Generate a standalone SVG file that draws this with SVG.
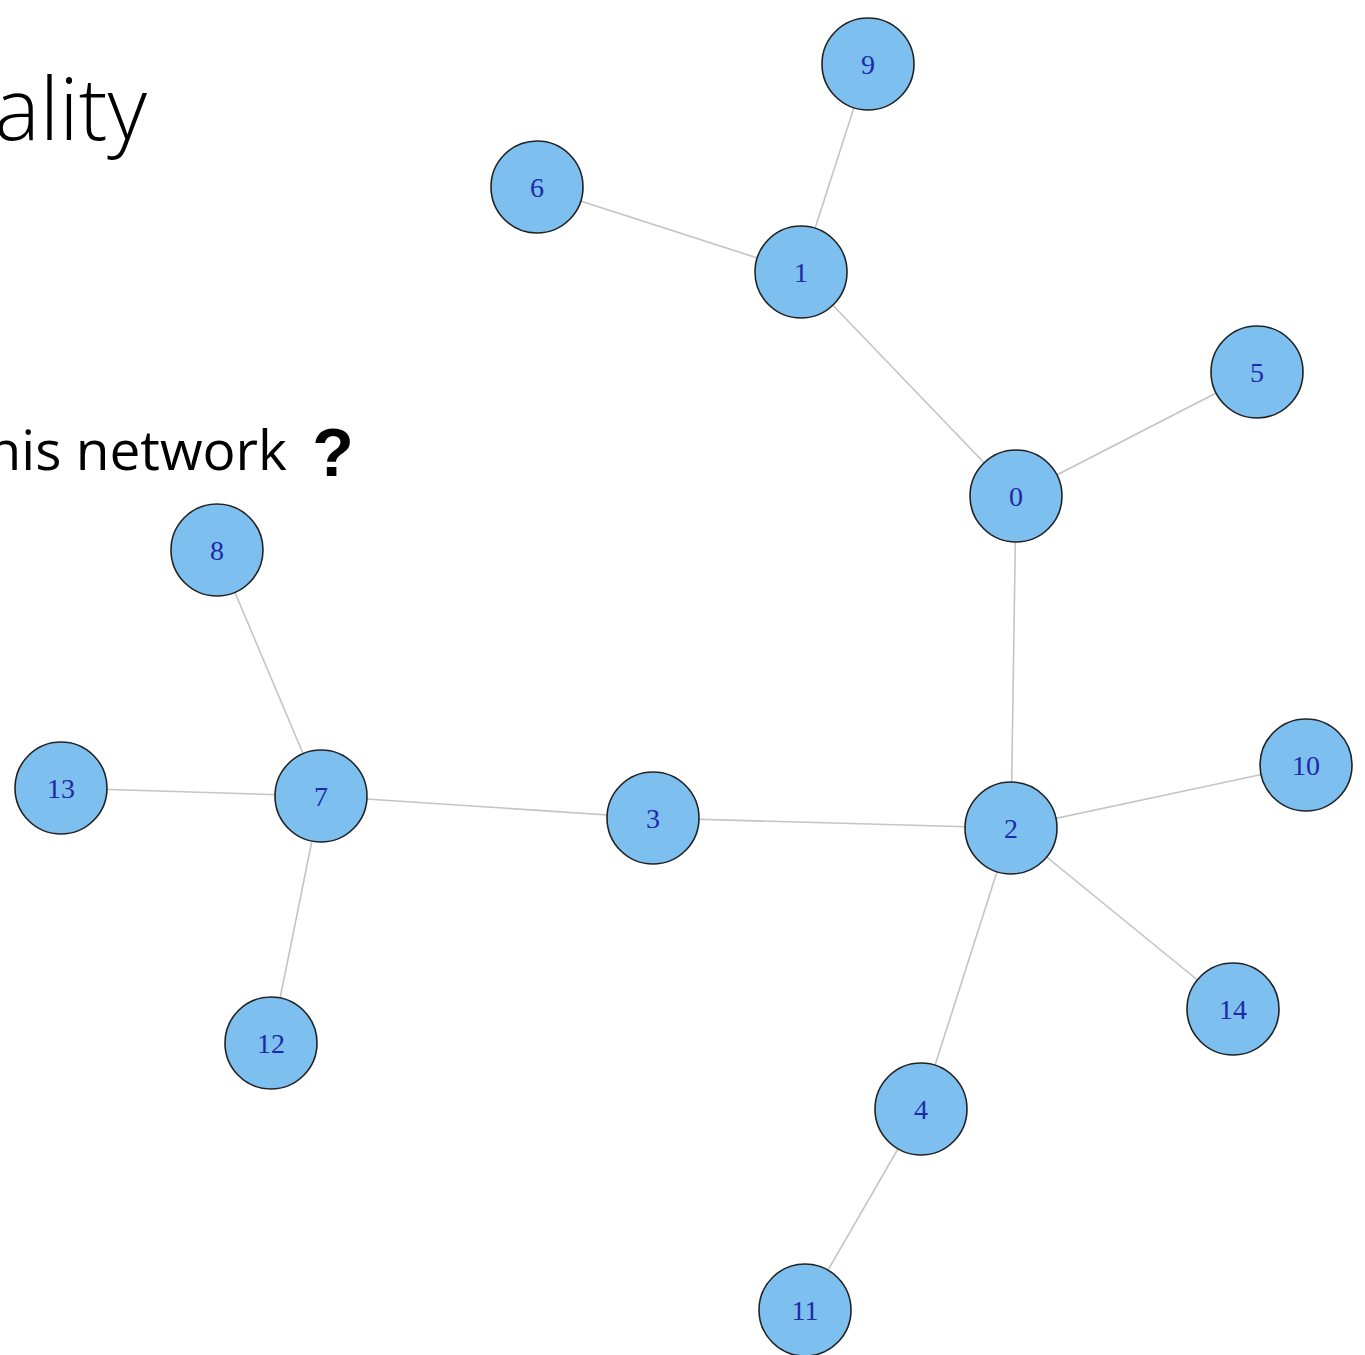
<svg xmlns="http://www.w3.org/2000/svg" width="1365" height="1355" viewBox="0 0 1365 1355">
<style>
.edge{stroke:#c4c4c4;stroke-width:1.6;fill:none}
.node circle{fill:#7dbfee;stroke:#222;stroke-width:1.6}
.node text{font-family:"Liberation Serif",serif;font-size:28px;fill:#1f2aa6;text-anchor:middle;dominant-baseline:central}
.title{font-family:"Open Sans","Noto Sans",sans-serif;fill:#000}
</style>
<rect width="1365" height="1355" fill="#fff"/>
<text class="title" x="147" y="140" font-size="86" text-anchor="end" style="font-weight:300">ality</text>
<text class="title" x="287" y="470" font-size="55" text-anchor="end" style="font-weight:400">his network</text>
<text x="333" y="476" font-family="Liberation Sans,sans-serif" font-weight="bold" font-size="68" text-anchor="middle">?</text>
<g id="connectors">
<line class="edge" x1="868" y1="64" x2="801" y2="272"/>
<line class="edge" x1="537" y1="187" x2="801" y2="272"/>
<line class="edge" x1="801" y1="272" x2="1016" y2="496"/>
<line class="edge" x1="1257" y1="372" x2="1016" y2="496"/>
<line class="edge" x1="1016" y1="496" x2="1011" y2="828"/>
<line class="edge" x1="1011" y1="828" x2="1306" y2="765"/>
<line class="edge" x1="1011" y1="828" x2="1233" y2="1009"/>
<line class="edge" x1="1011" y1="828" x2="921" y2="1109"/>
<line class="edge" x1="921" y1="1109" x2="805" y2="1310"/>
<line class="edge" x1="1011" y1="828" x2="653" y2="818"/>
<line class="edge" x1="653" y1="818" x2="321" y2="796"/>
<line class="edge" x1="321" y1="796" x2="217" y2="550"/>
<line class="edge" x1="321" y1="796" x2="61" y2="788"/>
<line class="edge" x1="321" y1="796" x2="271" y2="1043"/>
</g>
<g id="n9" class="node"><circle cx="868" cy="64" r="46"/><text x="868" y="64">9</text></g>
<g id="n6" class="node"><circle cx="537" cy="187" r="46"/><text x="537" y="187">6</text></g>
<g id="n1" class="node"><circle cx="801" cy="272" r="46"/><text x="801" y="272">1</text></g>
<g id="n5" class="node"><circle cx="1257" cy="372" r="46"/><text x="1257" y="372">5</text></g>
<g id="n0" class="node"><circle cx="1016" cy="496" r="46"/><text x="1016" y="496">0</text></g>
<g id="n8" class="node"><circle cx="217" cy="550" r="46"/><text x="217" y="550">8</text></g>
<g id="n13" class="node"><circle cx="61" cy="788" r="46"/><text x="61" y="788">13</text></g>
<g id="n7" class="node"><circle cx="321" cy="796" r="46"/><text x="321" y="796">7</text></g>
<g id="n3" class="node"><circle cx="653" cy="818" r="46"/><text x="653" y="818">3</text></g>
<g id="n2" class="node"><circle cx="1011" cy="828" r="46"/><text x="1011" y="828">2</text></g>
<g id="n10" class="node"><circle cx="1306" cy="765" r="46"/><text x="1306" y="765">10</text></g>
<g id="n14" class="node"><circle cx="1233" cy="1009" r="46"/><text x="1233" y="1009">14</text></g>
<g id="n12" class="node"><circle cx="271" cy="1043" r="46"/><text x="271" y="1043">12</text></g>
<g id="n4" class="node"><circle cx="921" cy="1109" r="46"/><text x="921" y="1109">4</text></g>
<g id="n11" class="node"><circle cx="805" cy="1310" r="46"/><text x="805" y="1310">11</text></g>
</svg>
